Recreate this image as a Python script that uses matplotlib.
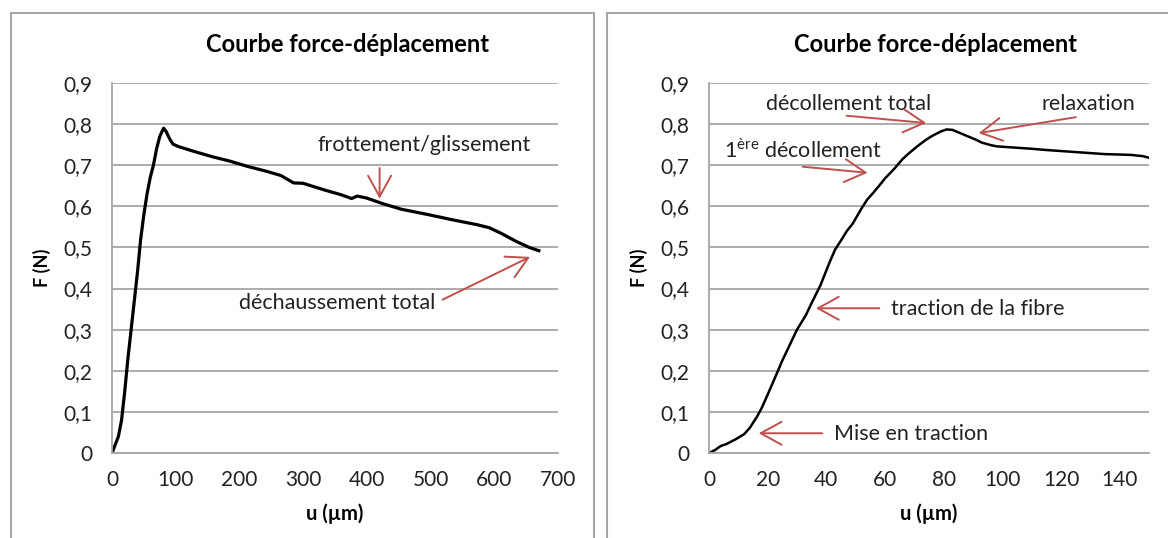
import matplotlib
matplotlib.use("Agg")
import matplotlib.pyplot as plt
from matplotlib.patches import Rectangle

plt.rcParams['font.family'] = ['Lato', 'DejaVu Sans']

# Data: left chart (full test)
u_left = [0, 5, 10, 15, 20, 25, 30, 35, 40, 45, 50, 55, 60, 65, 70, 75, 81,
          85, 88, 92, 96, 105, 130, 159, 185, 213, 243, 265, 285, 300, 333,
          360, 376, 385, 400, 424, 454, 496, 532, 574, 592, 610, 634, 655, 670]
F_left = [0, 0.02, 0.04, 0.08, 0.15, 0.23, 0.30, 0.37, 0.44, 0.52, 0.58, 0.63,
          0.67, 0.70, 0.74, 0.77, 0.79, 0.782, 0.772, 0.760, 0.751, 0.745,
          0.733, 0.720, 0.710, 0.697, 0.685, 0.675, 0.657, 0.656, 0.640,
          0.628, 0.619, 0.625, 0.620, 0.607, 0.593, 0.580, 0.568, 0.555,
          0.548, 0.535, 0.515, 0.500, 0.492]

# right chart (zoom on the first 150 µm)
u_right = [0, 2, 4, 6, 9, 12, 14, 16.5, 18, 20, 22, 25, 27, 30, 33, 35, 38, 41,
           43, 45, 47, 49, 52, 54, 56, 58, 60, 63, 66, 68, 71, 74, 76, 79, 81,
           83, 85, 88, 91, 93, 96, 98, 102, 106, 110, 115, 119, 123, 127, 131,
           135, 140, 144, 148, 150]
F_right = [0, 0.007, 0.017, 0.022, 0.033, 0.046, 0.062, 0.09, 0.11, 0.142,
           0.175, 0.225, 0.255, 0.30, 0.335, 0.365, 0.408, 0.462, 0.495, 0.517,
           0.540, 0.558, 0.595, 0.617, 0.633, 0.650, 0.668, 0.690, 0.715,
           0.728, 0.746, 0.762, 0.771, 0.782, 0.787, 0.786, 0.780, 0.771,
           0.762, 0.755, 0.749, 0.746, 0.744, 0.742, 0.740, 0.737, 0.735,
           0.733, 0.731, 0.729, 0.727, 0.726, 0.725, 0.722, 0.718]

y_ticks = [0, 0.1, 0.2, 0.3, 0.4, 0.5, 0.6, 0.7, 0.8, 0.9]
y_labels = ["0", "0,1", "0,2", "0,3", "0,4", "0,5", "0,6", "0,7", "0,8", "0,9"]
x_ticks_left = [0, 100, 200, 300, 400, 500, 600, 700]
x_ticks_right = [0, 20, 40, 60, 80, 100, 120, 140]

title = "Courbe force-déplacement"
red = "#c0504d"
grey = "#a6a6a6"
W, H = 1168, 538

fig = plt.figure(figsize=(11.68, 5.38), dpi=100)

# chart area borders
fig.add_artist(Rectangle((11 / W, -0.05), (594 - 11) / W, 1.05 - 13 / H,
                         transform=fig.transFigure, fill=False,
                         edgecolor=grey, lw=1.5))
fig.add_artist(Rectangle((607 / W, -0.05), 0.5, 1.05 - 13 / H,
                         transform=fig.transFigure, fill=False,
                         edgecolor=grey, lw=1.5))

ax1 = fig.add_axes([112 / W, 1 - 453 / H, (558 - 112) / W, (453 - 83) / H])
ax2 = fig.add_axes([709 / W, 1 - 453 / H, (1149 - 709) / W, (453 - 83) / H])


def style(ax, xticks, xmax):
    ax.set_xlim(0, xmax)
    ax.set_ylim(0, 0.9)
    ax.set_yticks(y_ticks)
    ax.set_yticklabels(y_labels)
    ax.set_xticks(xticks)
    ax.tick_params(length=0, labelsize=15, colors="#222222")
    ax.tick_params(axis="y", pad=14)
    ax.tick_params(axis="x", pad=12)
    ax.grid(axis="y", color=grey, lw=1.3)
    ax.set_axisbelow(True)
    for s in ["top", "right"]:
        ax.spines[s].set_visible(False)
    ax.spines["left"].set_color(grey)
    ax.spines["bottom"].set_color(grey)
    ax.spines["left"].set_linewidth(1.3)
    ax.spines["bottom"].set_linewidth(1.3)
    ax.set_xlabel("u (µm)", fontsize=14.5, fontweight="bold", labelpad=10)
    ax.set_ylabel("F (N)", fontsize=13, fontweight="bold", labelpad=9)


style(ax1, x_ticks_left, 700)
style(ax2, x_ticks_right, 150)

ax1.plot(u_left, F_left, color="black", lw=2.3)
ax2.plot(u_right, F_right, color="black", lw=1.8)

fig.text(347 / W, 1 - 45 / H, title, ha="center", va="center",
         fontsize=17, fontweight="bold")
fig.text(935 / W, 1 - 45 / H, title, ha="center", va="center",
         fontsize=17, fontweight="bold")

arrow = dict(arrowstyle="->,head_length=0.6,head_width=0.33",
             color=red, lw=1.4, mutation_scale=25)


def note(ax, text, pos, ha, tail, tip):
    ax.text(pos[0], pos[1], text, ha=ha, va="center", fontsize=15.5,
            color="#222222")
    ax.annotate("", xy=tip, xytext=tail, arrowprops=arrow)


note(ax1, "frottement/glissement", (490, 0.75), "center", (420, 0.70), (420, 0.612))
note(ax1, "déchaussement total", (508, 0.365), "right", (515, 0.37), (660, 0.48))

note(ax2, "décollement total", (47.5, 0.85), "center", (46, 0.821), (75, 0.802))
note(ax2, "relaxation", (129.5, 0.85), "center", (126, 0.818), (91, 0.777))
note(ax2, r"1$^{\mathregular{ère}}$ décollement", (32, 0.737), "center",
     (31, 0.697), (55, 0.681))
note(ax2, "traction de la fibre", (62, 0.35), "left", (59, 0.352), (35.5, 0.352))
note(ax2, "Mise en traction", (42.5, 0.046), "left", (39.5, 0.048), (16, 0.048))

fig.savefig("out.png", dpi=100)
